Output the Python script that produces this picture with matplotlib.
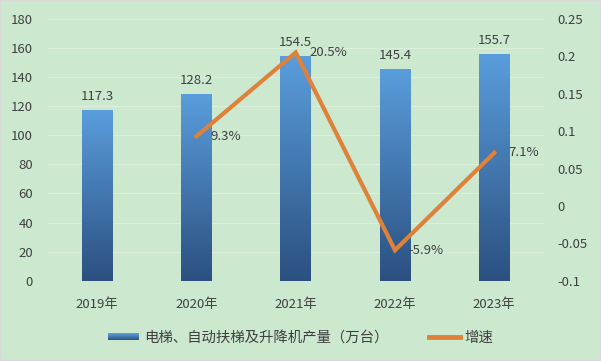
import numpy as np
import matplotlib.pyplot as plt
from matplotlib.colors import LinearSegmentedColormap
from matplotlib.legend_handler import HandlerBase
from matplotlib.patches import Rectangle
from matplotlib.lines import Line2D

plt.rcParams['font.family'] = ['Noto Sans CJK SC', 'DejaVu Sans']

# data
years = ['2019年', '2020年', '2021年', '2022年', '2023年']
output = [117.3, 128.2, 154.5, 145.4, 155.7]
growth = [None, 0.093, 0.205, -0.059, 0.071]
growth_labels = ['', '9.3%', '20.5%', '-5.9%', '7.1%']

bg = '#cce8cf'
txt = '#404040'
top_c = '#5a9ddc'
bot_c = '#2b5080'
cmap = LinearSegmentedColormap.from_list('bar', [bot_c, top_c])

fig = plt.figure(figsize=(6.01, 3.61), dpi=100, facecolor=bg)
fig.patches.append(Rectangle((0, 0), 1, 1, transform=fig.transFigure,
                             fill=False, edgecolor='#d9d9d9', lw=1.5))
ax = fig.add_axes([0.079, 0.222, 0.826, 0.726])
ax.set_facecolor(bg)
ax2 = ax.twinx()

x = np.arange(len(years))
w = 0.31
bars = ax.bar(x, output, width=w, color='none')
grad = np.linspace(0, 1, 256).reshape(-1, 1)
for b in bars:
    x0, y0 = b.get_x(), b.get_y()
    im = ax.imshow(grad, cmap=cmap, origin='lower', aspect='auto',
                   extent=[x0, x0 + b.get_width(), y0, y0 + b.get_height()],
                   zorder=2)
    im.set_clip_path(b)
for xi, v in zip(x, output):
    ax.annotate(f'{v}', (xi, v), xytext=(0, 5), textcoords='offset points',
                ha='center', va='bottom', fontsize=9.5, color=txt)

ax.set_xlim(-0.5, 4.5)
ax.set_ylim(0, 180)
ax.set_yticks(range(0, 181, 20))
ax.set_xticks(x)
ax.set_xticklabels(years)
ax.grid(axis='y', color='#dcefdd', lw=0.8)
ax.set_axisbelow(True)

gx = [xi for xi, g in zip(x, growth) if g is not None]
gy = [g for g in growth if g is not None]
ax2.plot(gx, gy, color='#e0813a', lw=3, zorder=5, solid_joinstyle='miter')
for xi, g, lab in zip(x, growth, growth_labels):
    if g is None:
        continue
    ax2.annotate(lab, (xi, g), xytext=(10, 0), textcoords='offset points',
                 ha='left', va='center', fontsize=9.5, color=txt)
ax2.set_ylim(-0.1, 0.25)
ax2.set_yticks([-0.1, -0.05, 0, 0.05, 0.1, 0.15, 0.2, 0.25])
ax2.set_yticklabels(['-0.1', '-0.05', '0', '0.05', '0.1', '0.15', '0.2', '0.25'])

for a in (ax, ax2):
    for s in a.spines.values():
        s.set_visible(False)
    a.tick_params(length=0, labelsize=9.5, labelcolor=txt)
ax.tick_params(axis='y', pad=10.5)
ax.tick_params(axis='x', pad=12)
ax2.tick_params(axis='y', pad=10)


class GradHandler(HandlerBase):
    def create_artists(self, legend, orig, xd, yd, width, height, fontsize, trans):
        n = 12
        arts = []
        for i in range(n):
            c = cmap(i / (n - 1))
            r = Rectangle((xd, yd + height * 0.15 + i * height * 0.7 / n),
                          width, height * 0.7 / n + 0.3, facecolor=c,
                          edgecolor='none', transform=trans)
            arts.append(r)
        return arts


bar_h = Rectangle((0, 0), 1, 1)
line_h = Line2D([], [], color='#e0813a', lw=3.5)
fig.legend([bar_h, line_h], ['电梯、自动扶梯及升降机产量（万台）', '增速'],
           handler_map={bar_h: GradHandler()}, loc='center',
           bbox_to_anchor=(0.5, 0.064), ncol=2, frameon=False,
           fontsize=10.4, labelcolor=txt, handlelength=2.2, handletextpad=0.3,
           columnspacing=2.8)

fig.savefig('out.png', dpi=100, facecolor=bg)
